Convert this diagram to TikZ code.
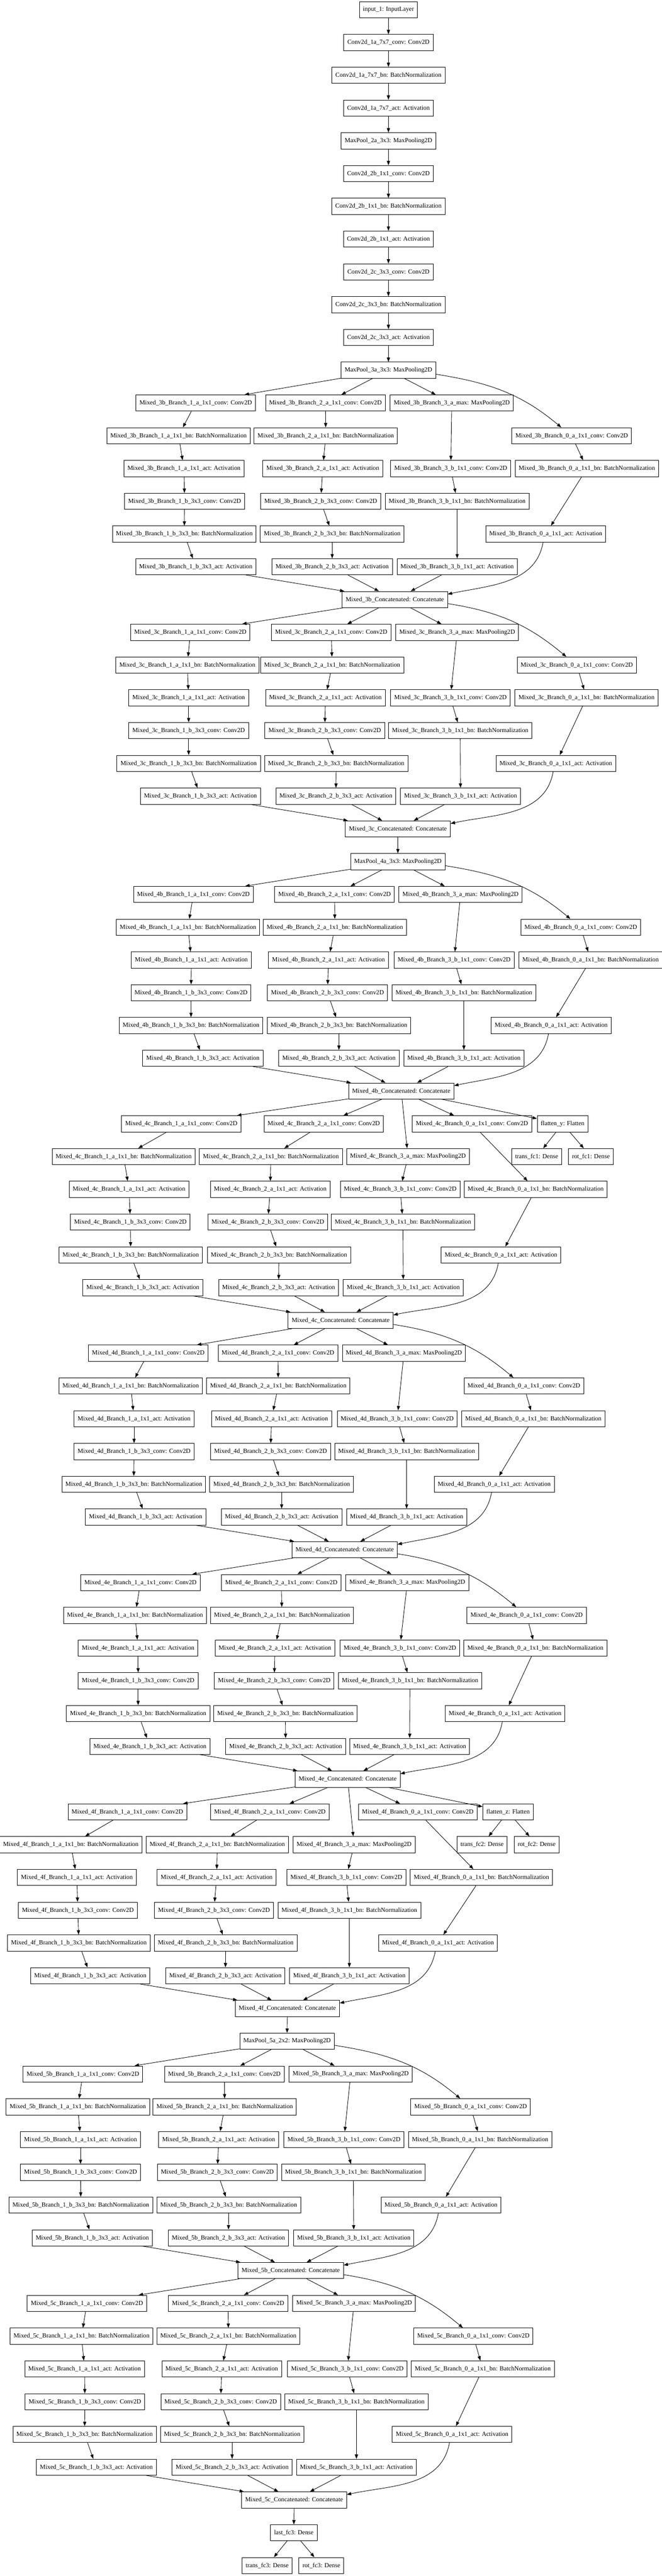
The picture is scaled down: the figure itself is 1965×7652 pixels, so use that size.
\documentclass[tikz,border=0pt]{standalone}
\usepackage{fontspec}
\setmainfont{Liberation Serif}
\usetikzlibrary{arrows.meta}
\newcommand\lyrfont{\fontsize{18.67}{22}\selectfont}
\tikzset{
  lay/.style={draw, line width=1.33pt, minimum height=48pt, inner xsep=10.6pt, inner ysep=2pt, font=\lyrfont, fill=white},
  arr/.style={line width=1.33pt, -{Triangle[length=13pt,width=9.5pt]}},
}
\newcommand\RY[1]{-29-97.33*(#1)}
\newcommand\setxA[6]{\def\xAa{#1}\def\xAb{#2}\def\xAc{#3}\def\xAd{#4}\def\xAe{#5}\def\xAf{#6}}
\newcommand\setxB[6]{\def\xBa{#1}\def\xBb{#2}\def\xBc{#3}\def\xBd{#4}\def\xBe{#5}\def\xBf{#6}}
\newcommand\setxC[4]{\def\xCa{#1}\def\xCb{#2}\def\xCc{#3}\def\xCd{#4}}
\newcommand\setxD[4]{\def\xDa{#1}\def\xDb{#2}\def\xDc{#3}\def\xCat{#4}}
% #1 tag, #2 source node, #3 first row, #4 mode (0 normal, 1 with side head)
\newcommand\mixedblock[4]{%
  \ifnum#4=0 \def\rmax{0}\def\rbz{1}\else\def\rmax{1}\def\rbz{0}\fi
  \node[lay] (m#1-1a) at (\xAa,{\RY{#3}})   {Mixed\_#1\_Branch\_1\_a\_1x1\_conv: Conv2D};
  \node[lay] (m#1-1b) at (\xAb,{\RY{#3+1}}) {Mixed\_#1\_Branch\_1\_a\_1x1\_bn: BatchNormalization};
  \node[lay] (m#1-1c) at (\xAc,{\RY{#3+2}}) {Mixed\_#1\_Branch\_1\_a\_1x1\_act: Activation};
  \node[lay] (m#1-1d) at (\xAd,{\RY{#3+3}}) {Mixed\_#1\_Branch\_1\_b\_3x3\_conv: Conv2D};
  \node[lay] (m#1-1e) at (\xAe,{\RY{#3+4}}) {Mixed\_#1\_Branch\_1\_b\_3x3\_bn: BatchNormalization};
  \node[lay] (m#1-1f) at (\xAf,{\RY{#3+5}}) {Mixed\_#1\_Branch\_1\_b\_3x3\_act: Activation};
  \node[lay] (m#1-2a) at (\xBa,{\RY{#3}})   {Mixed\_#1\_Branch\_2\_a\_1x1\_conv: Conv2D};
  \node[lay] (m#1-2b) at (\xBb,{\RY{#3+1}}) {Mixed\_#1\_Branch\_2\_a\_1x1\_bn: BatchNormalization};
  \node[lay] (m#1-2c) at (\xBc,{\RY{#3+2}}) {Mixed\_#1\_Branch\_2\_a\_1x1\_act: Activation};
  \node[lay] (m#1-2d) at (\xBd,{\RY{#3+3}}) {Mixed\_#1\_Branch\_2\_b\_3x3\_conv: Conv2D};
  \node[lay] (m#1-2e) at (\xBe,{\RY{#3+4}}) {Mixed\_#1\_Branch\_2\_b\_3x3\_bn: BatchNormalization};
  \node[lay] (m#1-2f) at (\xBf,{\RY{#3+5}}) {Mixed\_#1\_Branch\_2\_b\_3x3\_act: Activation};
  \node[lay] (m#1-3a) at (\xCa,{\RY{#3+\rmax}}) {Mixed\_#1\_Branch\_3\_a\_max: MaxPooling2D};
  \node[lay] (m#1-3b) at (\xCb,{\RY{#3+2}}) {Mixed\_#1\_Branch\_3\_b\_1x1\_conv: Conv2D};
  \node[lay] (m#1-3c) at (\xCc,{\RY{#3+3}}) {Mixed\_#1\_Branch\_3\_b\_1x1\_bn: BatchNormalization};
  \node[lay] (m#1-3d) at (\xCd,{\RY{#3+5}}) {Mixed\_#1\_Branch\_3\_b\_1x1\_act: Activation};
  \node[lay] (m#1-0a) at (\xDa,{\RY{#3+\rbz}}) {Mixed\_#1\_Branch\_0\_a\_1x1\_conv: Conv2D};
  \node[lay] (m#1-0b) at (\xDb,{\RY{#3+2}}) {Mixed\_#1\_Branch\_0\_a\_1x1\_bn: BatchNormalization};
  \node[lay] (m#1-0c) at (\xDc,{\RY{#3+4}}) {Mixed\_#1\_Branch\_0\_a\_1x1\_act: Activation};
  \node[lay] (m#1-cat) at (\xCat,{\RY{#3+6}}) {Mixed\_#1\_Concatenated: Concatenate};
  \draw[arr] (#2) -- (m#1-1a);
  \draw[arr] (#2) -- (m#1-2a);
  \draw[arr] (#2) -- (m#1-3a);
  \ifnum#4=0
    \draw[arr] ([yshift=-12pt]#2.east) to[out=-9,in=140] ([xshift=-31pt]m#1-0a.north);
  \else
    \draw[arr] (#2) -- (m#1-0a);
  \fi
  \draw[arr] (m#1-1a) -- (m#1-1b);
  \draw[arr] (m#1-1b) -- (m#1-1c);
  \draw[arr] (m#1-1c) -- (m#1-1d);
  \draw[arr] (m#1-1d) -- (m#1-1e);
  \draw[arr] (m#1-1e) -- (m#1-1f);
  \draw[arr] (m#1-2a) -- (m#1-2b);
  \draw[arr] (m#1-2b) -- (m#1-2c);
  \draw[arr] (m#1-2c) -- (m#1-2d);
  \draw[arr] (m#1-2d) -- (m#1-2e);
  \draw[arr] (m#1-2e) -- (m#1-2f);
  \draw[arr] (m#1-3a) -- (m#1-3b);
  \draw[arr] (m#1-3b) -- (m#1-3c);
  \draw[arr] (m#1-3c) -- (m#1-3d);
  \draw[arr] (m#1-0a) -- (m#1-0b);
  \draw[arr] (m#1-0b) -- (m#1-0c);
  \draw[arr] (m#1-1f) -- (m#1-cat);
  \draw[arr] (m#1-2f) -- (m#1-cat);
  \draw[arr] (m#1-3d) -- (m#1-cat);
  \draw[arr] ([xshift=-8pt]m#1-0c.south) to[out=-100,in=12] ([yshift=16pt]m#1-cat.east);
}
\begin{document}
\begin{tikzpicture}[x=1pt,y=1pt]
\fill[white] (0,0) rectangle (1965,-7652);
\useasboundingbox (0,0) rectangle (1965,-7652);
% stem
\node[lay] (in)   at (1153,{\RY{0}})  {input\_1: InputLayer};
\node[lay] (c1a)  at (1153,{\RY{1}})  {Conv2d\_1a\_7x7\_conv: Conv2D};
\node[lay] (b1a)  at (1153,{\RY{2}})  {Conv2d\_1a\_7x7\_bn: BatchNormalization};
\node[lay] (a1a)  at (1153,{\RY{3}})  {Conv2d\_1a\_7x7\_act: Activation};
\node[lay] (mp2a) at (1153,{\RY{4}})  {MaxPool\_2a\_3x3: MaxPooling2D};
\node[lay] (c2b)  at (1153,{\RY{5}})  {Conv2d\_2b\_1x1\_conv: Conv2D};
\node[lay] (b2b)  at (1153,{\RY{6}})  {Conv2d\_2b\_1x1\_bn: BatchNormalization};
\node[lay] (a2b)  at (1153,{\RY{7}})  {Conv2d\_2b\_1x1\_act: Activation};
\node[lay] (c2c)  at (1153,{\RY{8}})  {Conv2d\_2c\_3x3\_conv: Conv2D};
\node[lay] (b2c)  at (1153,{\RY{9}})  {Conv2d\_2c\_3x3\_bn: BatchNormalization};
\node[lay] (a2c)  at (1153,{\RY{10}}) {Conv2d\_2c\_3x3\_act: Activation};
\node[lay] (mp3a) at (1153,{\RY{11}}) {MaxPool\_3a\_3x3: MaxPooling2D};
\foreach \s/\t in {in/c1a,c1a/b1a,b1a/a1a,a1a/mp2a,mp2a/c2b,c2b/b2b,b2b/a2b,a2b/c2c,c2c/b2c,b2c/a2c,a2c/mp3a}
  \draw[arr] (\s) -- (\t);
% Mixed 3b
\setxA{581}{530}{546}{548}{547}{581}
\setxB{966}{967}{958}{952}{986}{986}
\setxC{1341}{1338}{1357}{1357}
\setxD{1697}{1742}{1620}{1172}
\mixedblock{3b}{mp3a}{12}{0}
% Mixed 3c
\setxA{565}{556}{560}{560}{560}{595}
\setxB{983}{986}{966}{964}{998}{997}
\setxC{1357}{1337}{1366}{1367}
\setxD{1712}{1741}{1650}{1181}
\mixedblock{3c}{m3b-cat}{19}{0}
\node[lay] (mp4a) at (1181,{\RY{26}}) {MaxPool\_4a\_3x3: MaxPooling2D};
\draw[arr] (m3c-cat) -- (mp4a);
% Mixed 4b
\setxA{574}{558}{568}{567}{567}{602}
\setxB{993}{994}{975}{972}{1006}{1006}
\setxC{1367}{1348}{1377}{1377}
\setxD{1724}{1753}{1636}{1191}
\mixedblock{4b}{mp4a}{27}{0}
% Mixed 4c
\setxA{538}{367}{383}{387}{388}{424}
\setxB{961}{804}{802}{795}{828}{827}
\setxC{1211}{1188}{1196}{1197}
\setxD{1401}{1590}{1487}{1011}
\mixedblock{4c}{m4b-cat}{34}{1}
\node[lay] (fly) at (1670,{\RY{34}}) {flatten\_y: Flatten};
\node[lay] (tf1) at (1593,{\RY{35}}) {trans\_fc1: Dense};
\node[lay] (rf1) at (1754,{\RY{35}}) {rot\_fc1: Dense};
\draw[arr] (m4b-cat) -- (fly);
\draw[arr] (fly) -- (tf1);
\draw[arr] (fly) -- (rf1);
% Mixed 4d
\setxA{440}{388}{398}{398}{397}{432}
\setxB{825}{826}{806}{803}{836}{836}
\setxC{1199}{1179}{1207}{1207}
\setxD{1555}{1583}{1467}{1023}
\mixedblock{4d}{m4c-cat}{41}{0}
% Mixed 4e
\setxA{417}{401}{410}{410}{410}{445}
\setxB{835}{837}{816}{814}{847}{848}
\setxC{1209}{1187}{1217}{1216}
\setxD{1563}{1589}{1499}{1032}
\mixedblock{4e}{m4d-cat}{48}{0}
% Mixed 4f
\setxA{378}{210}{228}{231}{234}{268}
\setxB{801}{645}{643}{635}{670}{669}
\setxC{1051}{1028}{1037}{1037}
\setxD{1240}{1429}{1300}{853}
\mixedblock{4f}{m4e-cat}{55}{1}
\node[lay] (flz) at (1508,{\RY{55}}) {flatten\_z: Flatten};
\node[lay] (tf2) at (1431,{\RY{56}}) {trans\_fc2: Dense};
\node[lay] (rf2) at (1593,{\RY{56}}) {rot\_fc2: Dense};
\draw[arr] (m4e-cat) -- (flz);
\draw[arr] (flz) -- (tf2);
\draw[arr] (flz) -- (rf2);
\node[lay] (mp5a) at (852,{\RY{62}}) {MaxPool\_5a\_2x2: MaxPooling2D};
\draw[arr] (m4f-cat) -- (mp5a);
% Mixed 5b
\setxA{246}{231}{239}{239}{240}{274}
\setxB{666}{667}{649}{645}{679}{678}
\setxC{1041}{1021}{1049}{1050}
\setxD{1397}{1425}{1309}{863}
\mixedblock{5b}{mp5a}{63}{0}
% Mixed 5c
\setxA{258}{242}{251}{252}{251}{286}
\setxB{677}{678}{658}{655}{689}{689}
\setxC{1051}{1031}{1058}{1058}
\setxD{1405}{1433}{1342}{873}
\mixedblock{5c}{m5b-cat}{70}{0}
% head
\node[lay] (lf3) at (872,{\RY{77}}) {last\_fc3: Dense};
\node[lay] (tf3) at (793,{\RY{78}}) {trans\_fc3: Dense};
\node[lay] (rf3) at (954,{\RY{78}}) {rot\_fc3: Dense};
\draw[arr] (m5c-cat) -- (lf3);
\draw[arr] (lf3) -- (tf3);
\draw[arr] (lf3) -- (rf3);
\end{tikzpicture}
\end{document}
